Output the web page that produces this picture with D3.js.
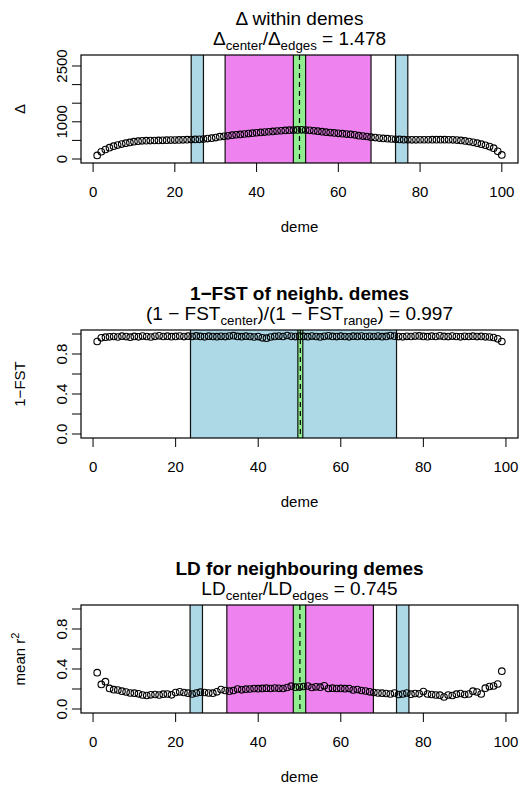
<!DOCTYPE html>
<html><head><meta charset="utf-8">
<script src="https://cdn.jsdelivr.net/npm/d3@7"></script>
<style>body{margin:0;background:#fff}svg{display:block}text{font-family:"Liberation Sans",Arial,sans-serif;fill:#000}</style>
</head><body>
<script>
// ---------- data ----------
const demes1 = d3.range(1, 101);
const delta = [95,195,255,305,345,375,400,425,445,465,
478,488,492,495,497,500,503,505,508,510,
512,516,520,522,525,528,535,548,560,575,
600,610,622,640,652,660,672,684,695,705,
715,724,733,742,752,760,768,775,778,782,
785,778,770,760,748,735,722,710,700,690,
680,670,660,650,628,615,605,588,575,562,
552,545,538,530,525,520,518,516,516,517,
518,518,519,520,520,519,517,515,510,500,
485,468,448,425,398,370,335,290,205,110];
const demes2 = d3.range(1, 100);
const oneMinusFst = [0.925,0.962,0.968,0.972,0.975,0.970,0.978,0.974,0.968,0.976,
0.972,0.979,0.975,0.970,0.977,0.982,0.975,0.978,0.973,0.976,
0.980,0.974,0.978,0.975,0.981,0.976,0.972,0.978,0.975,0.973,
0.977,0.974,0.979,0.983,0.976,0.973,0.978,0.975,0.970,0.974,
0.962,0.958,0.970,0.976,0.979,0.975,0.985,0.977,0.974,0.978,
0.976,0.973,0.979,0.975,0.971,0.977,0.982,0.976,0.974,0.978,
0.975,0.972,0.978,0.976,0.980,0.974,0.977,0.975,0.979,0.973,
0.976,0.984,0.978,0.974,0.972,0.977,0.975,0.979,0.981,0.976,
0.973,0.978,0.975,0.982,0.976,0.974,0.979,0.975,0.972,0.977,
0.975,0.978,0.974,0.976,0.972,0.970,0.965,0.952,0.925];
const demes3 = d3.range(1, 100);
const meanR2 = [0.363,0.246,0.273,0.206,0.193,0.190,0.178,0.170,0.160,0.158,
0.152,0.140,0.135,0.142,0.145,0.140,0.148,0.150,0.142,0.165,
0.172,0.165,0.158,0.150,0.160,0.168,0.165,0.160,0.158,0.172,
0.195,0.185,0.178,0.185,0.200,0.192,0.198,0.200,0.205,0.203,
0.206,0.208,0.205,0.210,0.207,0.205,0.215,0.228,0.218,0.220,
0.225,0.230,0.215,0.222,0.218,0.232,0.205,0.208,0.205,0.206,
0.203,0.205,0.190,0.195,0.185,0.180,0.172,0.165,0.160,0.158,
0.155,0.150,0.160,0.145,0.150,0.160,0.148,0.155,0.152,0.175,
0.150,0.145,0.140,0.138,0.120,0.140,0.135,0.148,0.155,0.145,
0.150,0.178,0.170,0.150,0.208,0.225,0.230,0.250,0.378];
// shaded ranges [from, to, colour index]
const bands1 = [[24,77,0],[27,74,1],[32.3,68,2],[49,52,3]];
const bands2 = [[23.6,73.5,0],[49.6,50.8,3]];
const bands3 = [[23.5,76.5,0],[26.5,73.5,1],[32.4,67.9,2],[48.5,51.5,3]];
const centers = [50.5, 50.2, 50.1];
const xTicks = [0,20,40,60,80,100];
const yTicks1 = [0,500,1000,1500,2000,2500];
const yLabels1 = [0,1000,2500];
const yTicks2 = [0,0.2,0.4,0.6,0.8,1.0];
const yLabels2 = [0,0.4,0.8];
const yLim1 = [0, 2688];
const yLim2 = [0, 1];
const ratios = ["1.478","0.997","0.745"];

// ---------- styling ----------
const bandColors = ["#ADD8E6","#FFFFFF","#EE82EE","#90EE90"];
const W = 522, H = 787;
const boxL = 81, boxR = 518, boxT = 55, boxB = 163, step = 275;

const svg = d3.select("body").append("svg").attr("width", W).attr("height", H);
svg.append("rect").attr("width", W).attr("height", H).attr("fill", "#fff");

function ext(lim){ const r = lim[1]-lim[0]; return [lim[0]-0.04*r, lim[1]+0.04*r]; }

function panel(i, xs, ys, xlim, ylim, yT, yL, yFmt, bands, center, title1, bold, line2, ylab){
  const oy = i*step;
  const x = d3.scaleLinear().domain(ext(xlim)).range([boxL, boxR]);
  const y = d3.scaleLinear().domain(ext(ylim)).range([boxB+oy, boxT+oy]);
  const g = svg.append("g");
  const clipId = "clip"+i;
  g.append("clipPath").attr("id", clipId).append("rect")
    .attr("x", boxL).attr("y", boxT+oy).attr("width", boxR-boxL).attr("height", boxB-boxT);
  const pg = g.append("g").attr("clip-path", `url(#${clipId})`);
  pg.selectAll("rect.band").data(bands).enter().append("rect")
    .attr("x", d => x(d[0])).attr("width", d => x(d[1])-x(d[0]))
    .attr("y", boxT+oy-5).attr("height", boxB-boxT+10)
    .attr("fill", d => bandColors[d[2]]).attr("stroke", "#111").attr("stroke-width", 1.2);
  pg.append("line").attr("x1", x(center)).attr("x2", x(center))
    .attr("y1", boxT+oy).attr("y2", boxB+oy)
    .attr("stroke", "#000").attr("stroke-width", 1.2).attr("stroke-dasharray", "5,4");
  pg.selectAll("circle").data(xs).enter().append("circle")
    .attr("cx", (d,k) => x(d)).attr("cy", (d,k) => y(ys[k])).attr("r", 3.3)
    .attr("fill", "none").attr("stroke", "#000").attr("stroke-width", 1.1);
  g.append("rect").attr("x", boxL).attr("y", boxT+oy).attr("width", boxR-boxL).attr("height", boxB-boxT)
    .attr("fill", "none").attr("stroke", "#000").attr("stroke-width", 1.2);
  // x axis
  const xa = g.append("g");
  xa.selectAll("line").data(xTicks).enter().append("line")
    .attr("x1", d => x(d)).attr("x2", d => x(d)).attr("y1", boxB+oy).attr("y2", boxB+oy+9)
    .attr("stroke", "#000").attr("stroke-width", 1);
  xa.selectAll("text").data(xTicks).enter().append("text")
    .attr("x", d => x(d)).attr("y", boxB+oy+34).attr("text-anchor", "middle")
    .attr("font-size", 15).text(d => d);
  g.append("text").attr("x", (boxL+boxR)/2).attr("y", boxB+oy+69).attr("text-anchor","middle")
    .attr("font-size", 15).text("deme");
  // y axis
  const ya = g.append("g");
  ya.selectAll("line").data(yT).enter().append("line")
    .attr("x1", boxL-9).attr("x2", boxL).attr("y1", d => y(d)).attr("y2", d => y(d))
    .attr("stroke", "#000").attr("stroke-width", 1);
  ya.selectAll("text").data(yL).enter().append("text")
    .attr("transform", d => `translate(${boxL-14},${y(d)}) rotate(-90)`)
    .attr("text-anchor", "middle").attr("font-size", 15).text(yFmt);
  ylab(g.append("text").attr("transform", `translate(25,${(boxT+boxB)/2+oy}) rotate(-90)`)
    .attr("text-anchor","middle").attr("font-size", 15));
  // titles
  g.append("text").attr("x", (boxL+boxR)/2).attr("y", boxT+oy-30).attr("text-anchor","middle")
    .attr("font-size", 19).attr("font-weight", bold ? "bold" : "normal").text(title1);
  line2(g.append("text").attr("x", (boxL+boxR)/2).attr("y", boxT+oy-10).attr("text-anchor","middle")
    .attr("font-size", 19));
}

function addParts(t, parts){
  parts.forEach(p => {
    if (p[1] === "sub") t.append("tspan").attr("font-size", 13.3).attr("dy", 5).text(p[0]);
    else if (p[1] === "up") t.append("tspan").attr("dy", -5).text(p[0]);
    else t.append("tspan").text(p[0]);
  });
}

panel(0, demes1, delta, [1,100], yLim1, yTicks1, yLabels1, d => d,
  bands1, centers[0], "Δ within demes", false,
  t => addParts(t, [["Δ"],["center","sub"],["/","up"],["Δ"],["edges","sub"],[" = " + ratios[0],"up"]]),
  t => t.text("Δ"));
panel(1, demes2, oneMinusFst, [1,99], yLim2, yTicks2, yLabels2, d => d.toFixed(1),
  bands2, centers[1], "1\u2212FST of neighb. demes", true,
  t => addParts(t, [["(1 \u2212 FST"],["center","sub"],[")/(1 \u2212 FST","up"],["range","sub"],[") = " + ratios[1],"up"]]),
  t => t.text("1\u2212FST"));
panel(2, demes3, meanR2, [1,99], yLim2, yTicks2, yLabels2, d => d.toFixed(1),
  bands3, centers[2], "LD for neighbouring demes", true,
  t => addParts(t, [["LD"],["center","sub"],["/LD","up"],["edges","sub"],[" = " + ratios[2],"up"]]),
  t => { t.append("tspan").text("mean r"); t.append("tspan").attr("font-size", 11).attr("dy", -6).text("2"); });
</script>
</body></html>
